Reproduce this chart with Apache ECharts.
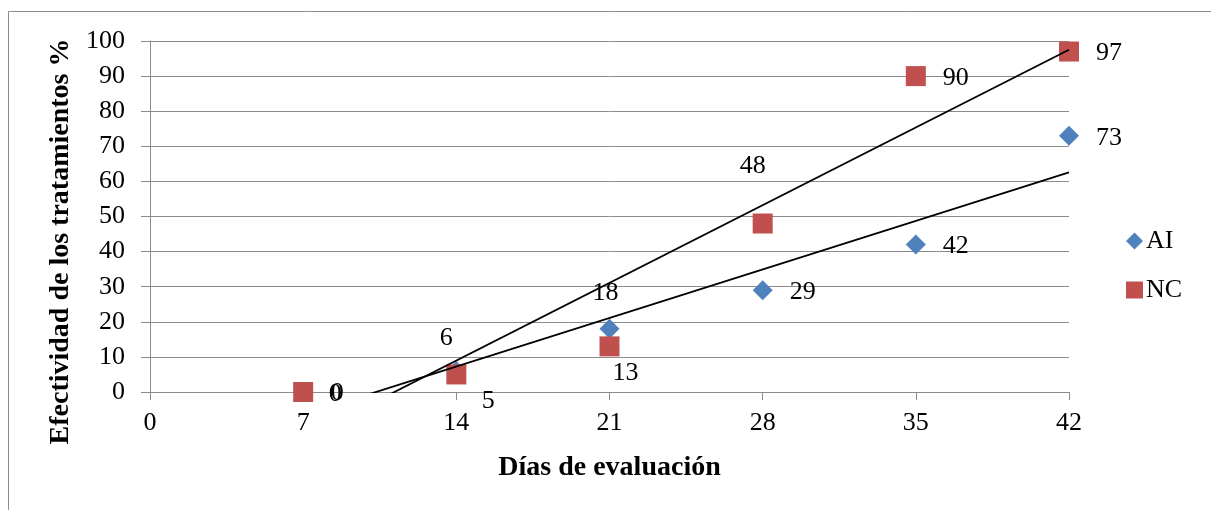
<!DOCTYPE html>
<html>
<head>
<meta charset="utf-8">
<script src="https://cdn.jsdelivr.net/npm/echarts@6/dist/echarts.min.js"></script>
<style>
  html, body { margin: 0; padding: 0; background: #fff; }
  #chart { width: 1211px; height: 510px; }
</style>
</head>
<body>
<div id="chart"></div>
<script>
// Evaluation days and treatment effectiveness (%)
const days = [7, 14, 21, 28, 35, 42];
const aiValues = [0, 6, 18, 29, 42, 73];
const ncValues = [0, 5, 13, 48, 90, 97];
const xTicks = [0, 7, 14, 21, 28, 35, 42];
const yTicks = [0, 10, 20, 30, 40, 50, 60, 70, 80, 90, 100];

const FONT = '"Liberation Serif", "Times New Roman", serif';
const AI_COLOR = '#4F81BD';
const NC_COLOR = '#C0504D';

// Least-squares linear trend through a series
function linearFit(xs, ys) {
  const n = xs.length;
  const mx = xs.reduce((a, b) => a + b, 0) / n;
  const my = ys.reduce((a, b) => a + b, 0) / n;
  let sxy = 0, sxx = 0;
  for (let i = 0; i < n; i++) {
    sxy += (xs[i] - mx) * (ys[i] - my);
    sxx += (xs[i] - mx) * (xs[i] - mx);
  }
  const slope = sxy / sxx;
  return { slope, intercept: my - slope * mx };
}
function trendPoints(xs, ys) {
  const f = linearFit(xs, ys);
  const x0 = xs[0], x1 = xs[xs.length - 1];
  return [[x0, f.intercept + f.slope * x0], [x1, f.intercept + f.slope * x1]];
}

// Label placement (offset of label centre from the marker centre, px)
const aiLabelOffsets = [[32, 2], [-10, -33], [-4, -36], [40, 2], [40, 2], [40, 2]];
const ncLabelOffsets = [[34, 1], [32, 27], [16, 27], [-10, -57], [40, 2], [40, 2]];

function withLabels(values, offsets) {
  return values.map((v, i) => ({
    value: [days[i], v],
    label: { offset: offsets[i] }
  }));
}

const labelStyle = {
  show: true,
  position: 'inside',
  align: 'center',
  verticalAlign: 'middle',
  fontFamily: FONT,
  fontSize: 26,
  color: '#000',
  opacity: 1,
  formatter: p => String(p.value[1])
};

const titleStyle = { fontFamily: FONT, fontSize: 28, fontWeight: 'bold', color: '#000' };

const chart = echarts.init(document.getElementById('chart'), null, { renderer: 'canvas' });
chart.setOption({
  animation: false,
  backgroundColor: '#fff',
  textStyle: { fontFamily: FONT },
  graphic: [{
    type: 'rect',
    shape: { x: 8.5, y: 11.5, width: 1400, height: 700 },
    style: { fill: 'none', stroke: '#8c8c8c', lineWidth: 1 },
    silent: true,
    z: -1
  }],
  grid: { left: 150, right: 142, top: 41, bottom: 118 },
  legend: {
    data: [
      { name: 'AI', icon: 'diamond' },
      { name: 'NC', icon: 'rect' }
    ],
    orient: 'vertical',
    left: 1121,
    top: 223,
    itemWidth: 17,
    itemHeight: 17,
    itemGap: 23,
    textStyle: { fontFamily: FONT, fontSize: 26, color: '#000', padding: [0, 0, 0, -2] }
  },
  xAxis: {
    type: 'value',
    min: 0,
    max: 42,
    interval: 7,
    name: 'Días de evaluación',
    nameLocation: 'middle',
    nameGap: 62,
    nameTextStyle: titleStyle,
    axisLine: { show: true, onZero: false, lineStyle: { color: '#8c8c8c', width: 1 } },
    axisTick: { show: true, length: 8, lineStyle: { color: '#8c8c8c' } },
    axisLabel: {
      fontFamily: FONT, fontSize: 26, color: '#000', margin: 18,
      formatter: v => xTicks.includes(v) ? String(v) : ''
    },
    splitLine: { show: false }
  },
  yAxis: {
    type: 'value',
    min: 0,
    max: 100,
    interval: 10,
    name: 'Efectividad de los tratamientos %',
    nameLocation: 'middle',
    nameGap: 75,
    nameRotate: 90,
    nameTextStyle: Object.assign({ padding: [0, 50, 0, 0] }, titleStyle),
    axisLine: { show: true, lineStyle: { color: '#8c8c8c', width: 1 } },
    axisTick: { show: true, length: 9, lineStyle: { color: '#8c8c8c' } },
    axisLabel: {
      fontFamily: FONT, fontSize: 26, color: '#000', margin: 25,
      formatter: v => yTicks.includes(v) ? String(v) : ''
    },
    splitLine: { show: true, lineStyle: { color: '#8c8c8c', width: 1 } }
  },
  series: [
    {
      name: 'Tendencia AI',
      type: 'line',
      data: trendPoints(days, aiValues),
      symbol: 'none',
      lineStyle: { color: '#000', width: 1.8 },
      clip: true,
      silent: true,
      z: 3
    },
    {
      name: 'Tendencia NC',
      type: 'line',
      data: trendPoints(days, ncValues),
      symbol: 'none',
      lineStyle: { color: '#000', width: 1.8 },
      clip: true,
      silent: true,
      z: 3
    },
    {
      name: 'AI',
      type: 'scatter',
      symbol: 'diamond',
      symbolSize: 20,
      itemStyle: { color: AI_COLOR, opacity: 1 },
      data: withLabels(aiValues, aiLabelOffsets),
      label: labelStyle,
      clip: false,
      z: 2
    },
    {
      name: 'NC',
      type: 'scatter',
      symbol: 'rect',
      symbolSize: 20,
      itemStyle: { color: NC_COLOR, opacity: 1 },
      data: withLabels(ncValues, ncLabelOffsets),
      label: labelStyle,
      clip: false,
      z: 2
    }
  ]
});
</script>
</body>
</html>
